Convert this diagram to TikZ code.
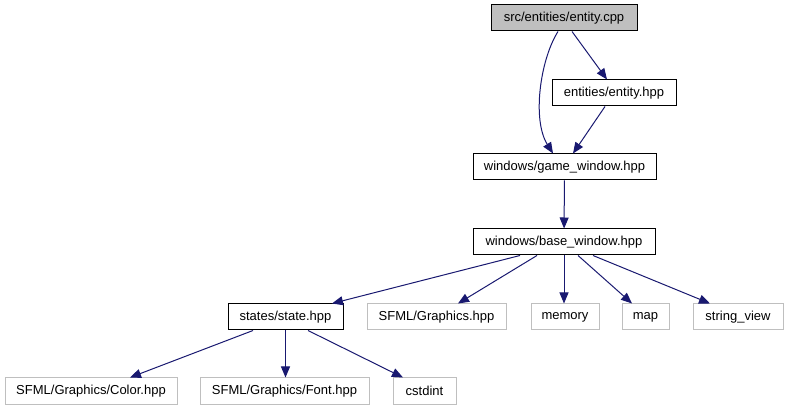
\documentclass[tikz,border=0pt]{standalone}
\usepackage{fontspec}
\setmainfont{Liberation Sans}
\usetikzlibrary{arrows.meta}
\definecolor{EdgeBlue}{HTML}{191970}
\definecolor{ExtGray}{HTML}{BFBFBF}

\begin{document}
\begin{tikzpicture}[
    x=1pt, y=-1pt,
    box/.style={draw,line width=1pt,inner sep=0pt,minimum height=26pt,font=\fontsize{13}{15}\selectfont},
    extbox/.style={box,draw=ExtGray},
    rootbox/.style={box,fill=ExtGray},
    arrow/.style={-{Triangle[length=11pt,width=9pt]},line width=1pt,EdgeBlue}
  ]
    \useasboundingbox (0,0) rectangle (787,411);
    \node[rootbox,minimum width=146pt] (cpp) at (564,18) {src/entities/entity.cpp};
    \node[box,minimum width=124pt] (entityhpp) at (614,93) {entities/entity.hpp};
    \node[box,minimum width=183pt] (gamewin) at (564.5,167) {windows/game\_window.hpp};
    \node[box,minimum width=182pt] (basewin) at (564,242) {windows/base\_window.hpp};
    \node[box,minimum width=115pt] (state) at (285.5,317) {states/state.hpp};
    \node[extbox,minimum width=139pt] (sfmlgfx) at (436.5,317) {SFML/Graphics.hpp};
    \node[extbox,minimum width=68pt] (memory) at (565,317) {memory};
    \node[extbox,minimum width=47pt] (map) at (645.5,317) {map};
    \node[extbox,minimum width=90pt] (strview) at (738,317) {string\_view};
    \node[extbox,minimum width=172pt] (color) at (91,391) {SFML/Graphics/Color.hpp};
    \node[extbox,minimum width=169pt] (font) at (284.5,391) {SFML/Graphics/Font.hpp};
    \node[extbox,minimum width=63pt] (cstdint) at (424.5,391) {cstdint};
    \draw[arrow] ([xshift=8pt]cpp.south) -- ([xshift=-7pt]entityhpp.north);
    \draw[arrow] ([xshift=-6pt]cpp.south) .. controls (540,60) and (532,120) .. ([xshift=-11.5pt]gamewin.north);
    \draw[arrow] ([xshift=-9pt]entityhpp.south) -- ([xshift=8.5pt]gamewin.north);
    \draw[arrow] (gamewin) -- (basewin);
    \draw[arrow] ([xshift=-44pt]basewin.south) -- ([xshift=46.5pt]state.north);
    \draw[arrow] ([xshift=-27pt]basewin.south) -- ([xshift=21.5pt]sfmlgfx.north);
    \draw[arrow] (basewin.south) -- (basewin.south |- memory.north);
    \draw[arrow] ([xshift=14pt]basewin.south) -- ([xshift=-13.5pt]map.north);
    \draw[arrow] ([xshift=29pt]basewin.south) -- ([xshift=-28pt]strview.north);
    \draw[arrow] ([xshift=-32.5pt]state.south) -- ([xshift=39pt]color.north);
    \draw[arrow] (state.south) -- (state.south |- font.north);
    \draw[arrow] ([xshift=22.5pt]state.south) -- ([xshift=-21.5pt]cstdint.north);
  \end{tikzpicture}
\end{document}
